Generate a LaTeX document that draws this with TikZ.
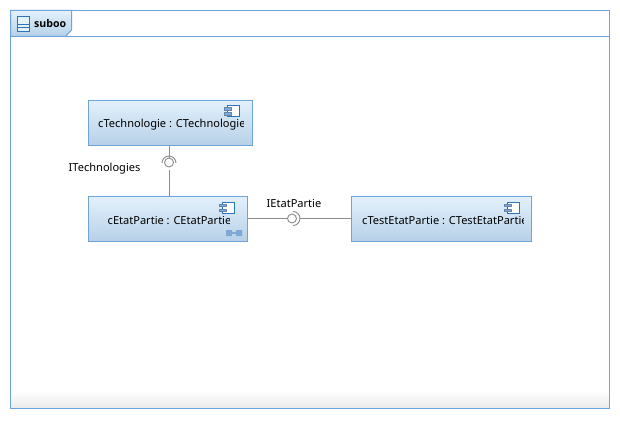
\documentclass[tikz,border=0pt]{standalone}
\usepackage{fontspec}
\setmainfont{Noto Sans}
\newfontfamily\titlefont{Open Sans}
\usetikzlibrary{calc}
\definecolor{edgeblue}{HTML}{6FA3DE}
\definecolor{boxtop}{HTML}{E3F1FC}
\definecolor{boxbot}{HTML}{B6D0E8}
\definecolor{conn}{HTML}{8C8C8C}
\definecolor{iconfill}{HTML}{7FA8D6}
\definecolor{iconline}{HTML}{2E74B5}
\tikzset{
  comp/.style={draw=edgeblue,line width=1pt,top color=boxtop,bottom color=boxbot,inner sep=0pt,outer sep=0pt,minimum height=45pt,anchor=north west},
  lbl/.style={font=\fontsize{11.05pt}{13pt}\selectfont,text=black,inner sep=0pt},
  wire/.style={draw=conn,line width=1pt},
  ball/.style={circle,draw=conn,line width=.9pt,fill=white,minimum size=9pt,inner sep=0pt},
}
\newcommand{\compicon}[2]{%
  \fill[white] (#1+3,#2) rectangle (#1+15,#2+11);
  \draw[iconline,line width=1pt] (#1+3,#2) rectangle (#1+15,#2+11);
  \draw[iconfill!80!black,fill=iconfill,line width=.6pt] (#1,#2+2) rectangle (#1+7,#2+4.5);
  \draw[iconfill!80!black,fill=iconfill,line width=.6pt] (#1,#2+7) rectangle (#1+7,#2+9.5);
}
\begin{document}
\begin{tikzpicture}[x=1pt,y=-1pt]
\useasboundingbox (0,0) rectangle (620,420);
\fill[white] (0,0) rectangle (620,420);
% frame
\shade[top color=white,bottom color=black!8] (10.5,390) rectangle (609.5,408.5);
\draw[edgeblue,line width=1pt] (10.5,10.5) rectangle (609.5,408.5);
\draw[edgeblue,line width=1pt] (10.5,36.5) -- (609.5,36.5);
\path[top color=boxtop,bottom color=boxbot,draw=edgeblue,line width=1pt]
  (10.5,10.5) -- (71.5,10.5) -- (71.5,30) -- (65.5,36.5) -- (10.5,36.5) -- cycle;
\draw[iconline,line width=.9pt,fill=boxtop] (17.5,16.5) rectangle (29.5,31);
\draw[iconline,line width=.9pt] (17.5,24) -- (29.5,24) (17.5,27.5) -- (29.5,27.5);
\node[lbl,anchor=west,font=\titlefont\fontsize{10.6pt}{12pt}\selectfont\bfseries] (title) at (34,23.5) {suboo};
% components
\node[comp,minimum width=164pt] (c1) at (88.5,100.5) {};
\node[comp,minimum width=159pt] (c2) at (88.5,196.5) {};
\node[comp,minimum width=180pt] (c3) at (351.5,196.5) {};
\begin{scope}
\clip (90,100) rectangle (243,145);
\node[lbl,anchor=west] (t1) at (98,125) {cTechnologie : CTechnologie};
\end{scope}
\begin{scope}
\clip (90,196) rectangle (229,241);
\node[lbl,anchor=west] (t2) at (107.5,220.5) {cEtatPartie : CEtatPartie};
\end{scope}
\begin{scope}
\clip (353,196) rectangle (523,241);
\node[lbl,anchor=west] (t3) at (362,220.5) {cTestEtatPartie : CTestEtatPartie};
\end{scope}
\compicon{224}{105.7}
\compicon{219}{202}
\compicon{504}{202}
% nested decoration
\fill[iconfill] (226,230) rectangle (232,236) (236,230) rectangle (242,236);
\draw[iconfill,line width=1.2pt] (232,233) -- (236,233);
% interfaces
\node[ball] (b1) at (169,162.5) {};
\coordinate (s1) at (169,170);
\draw[conn,line width=.9pt] (162,163) arc[start angle=180,end angle=360,radius=7];
\node[ball] (b2) at (292,218.5) {};
\coordinate (s2) at (300,218.5);
\draw[conn,line width=.9pt] (293,211.5) arc[start angle=-90,end angle=90,radius=7];
\draw[wire] (b1 |- c1.south) -- (b1.north);
\draw[wire] (s1) -- (s1 |- c2.north);
\draw[wire] (c2.east |- b2) -- (b2.west);
\draw[wire] (s2) -- (c3.west |- s2);
\begin{scope}
\clip (60,155) rectangle (141.5,180);
\node[lbl,anchor=west] (l1) at (68.5,168.5) {ITechnologies};
\end{scope}
\begin{scope}
\clip (260,192) rectangle (322,212);
\node[lbl,anchor=west] (l2) at (266.5,203) {IEtatPartie};
\end{scope}
\end{tikzpicture}
\end{document}
